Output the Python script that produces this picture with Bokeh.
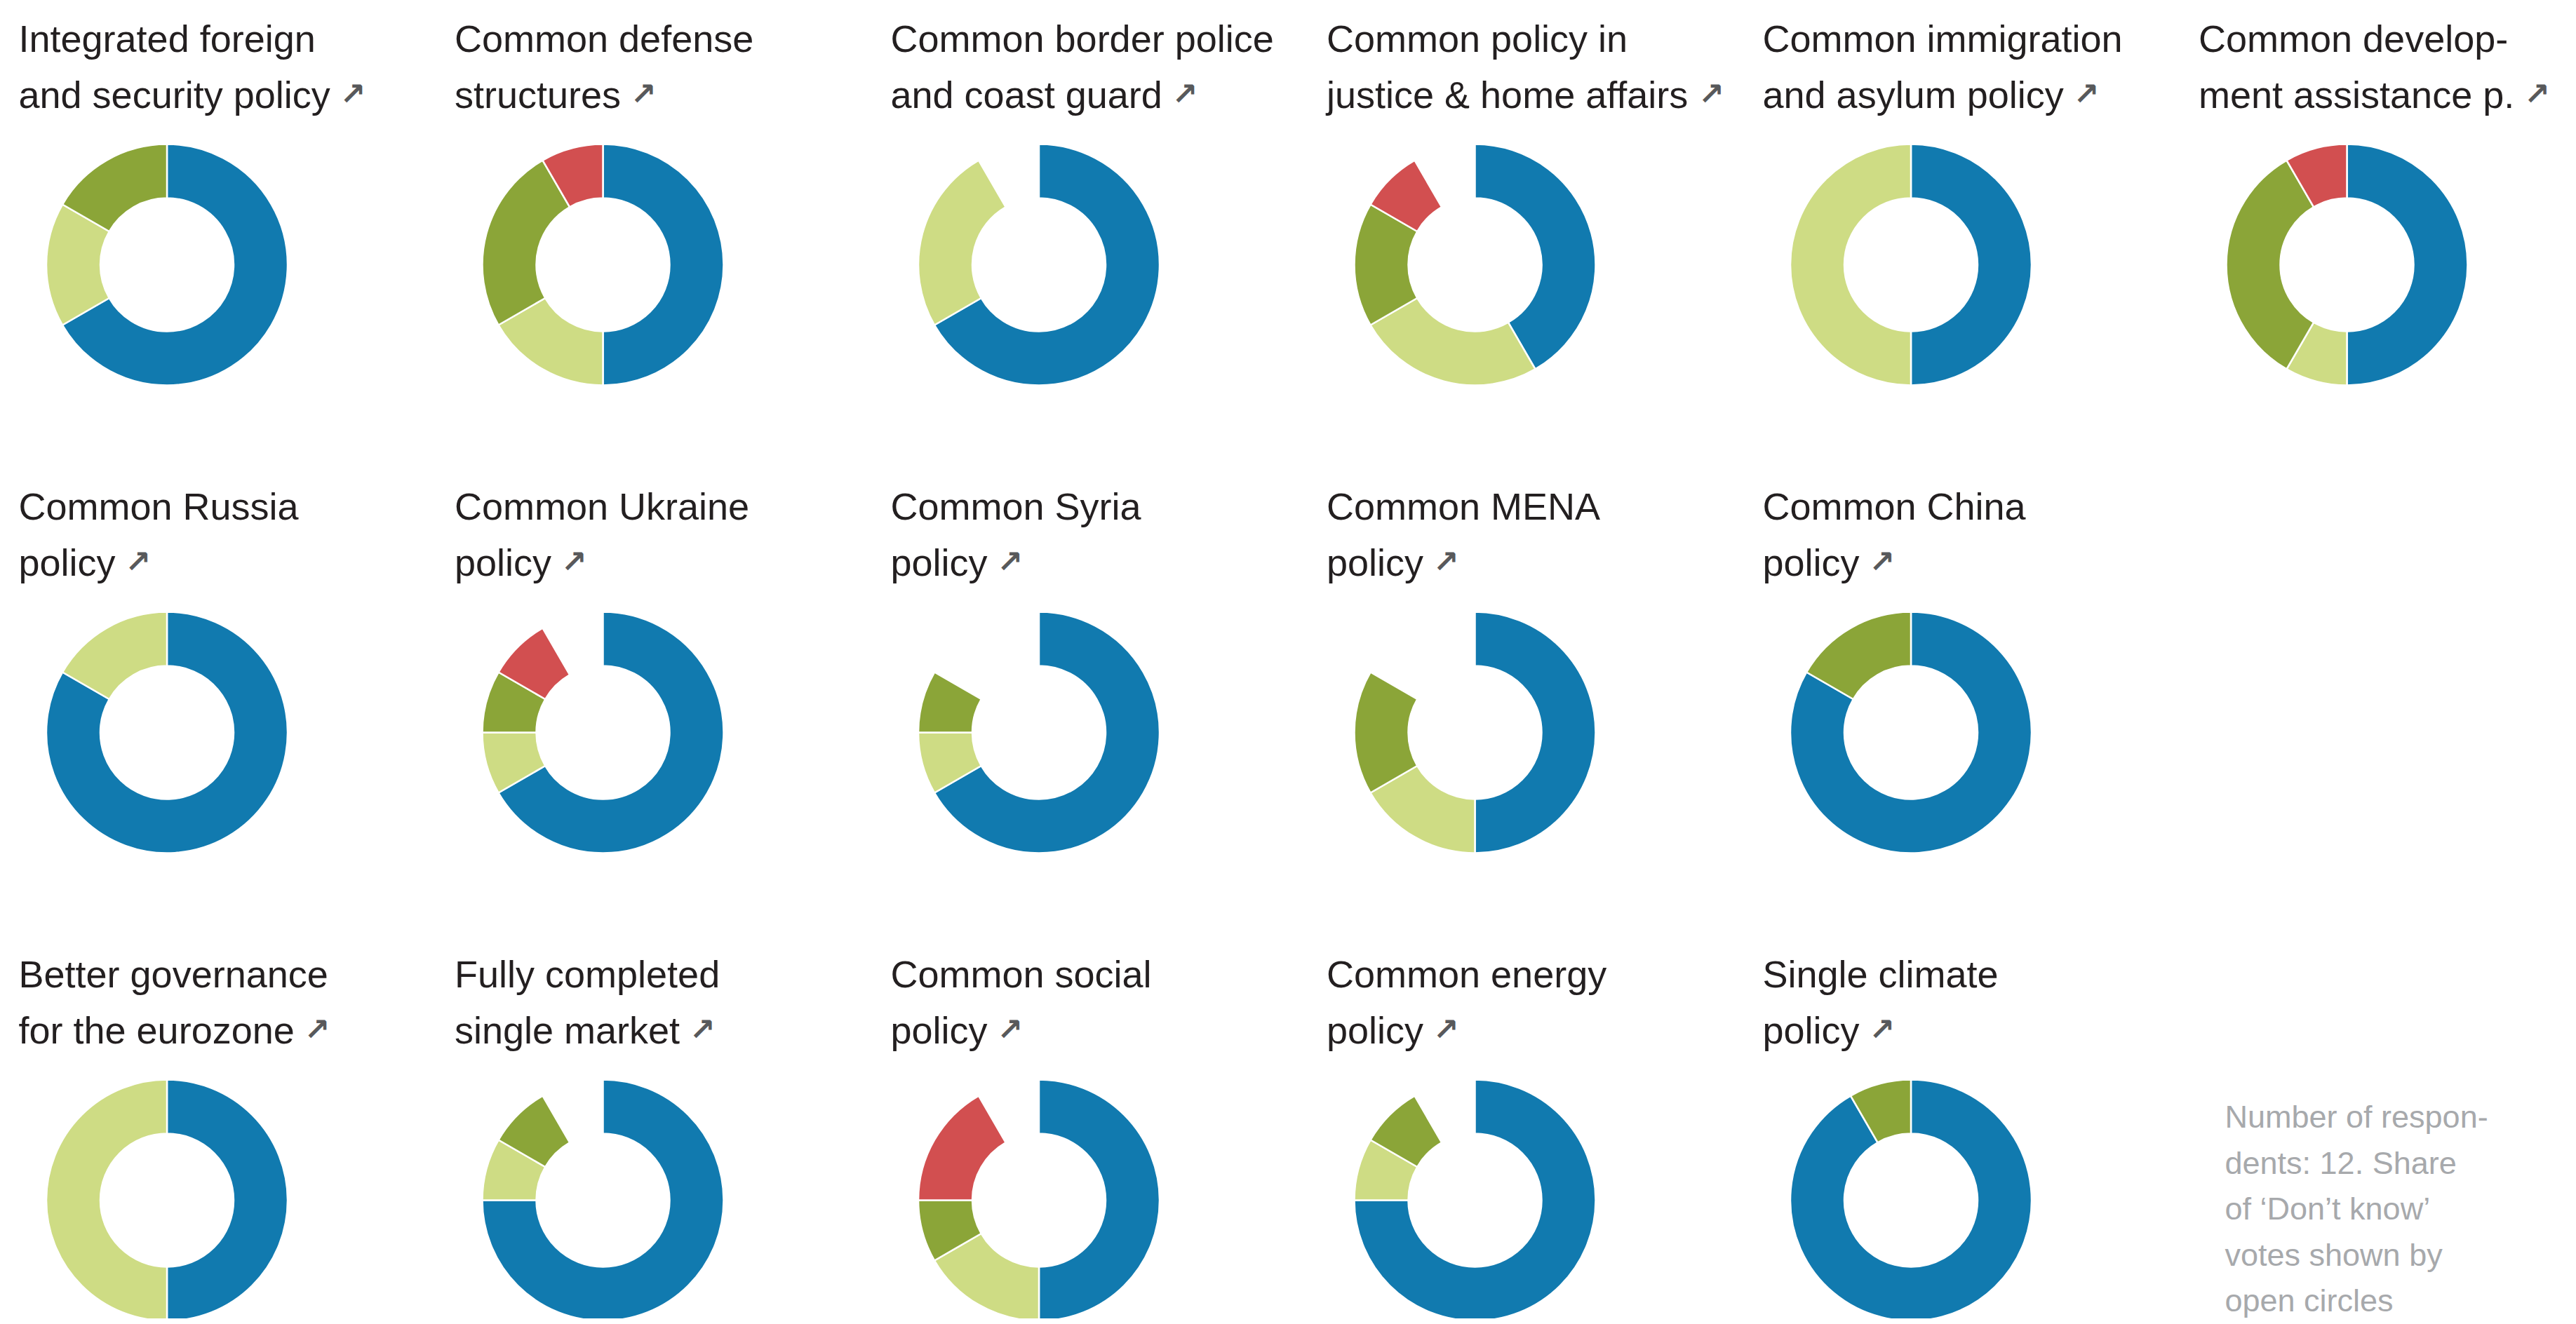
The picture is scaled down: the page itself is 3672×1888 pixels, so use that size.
import math
from bokeh.plotting import figure
from bokeh.models import Range1d, ColumnDataSource
from bokeh.core.properties import value
from bokeh.embed import file_html
from bokeh.resources import INLINE

# ---------------- data ----------------
title_line1 = [
    "Integrated foreign", "Common defense", "Common border police", "Common policy in",
    "Common immigration", "Common develop-",
    "Common Russia", "Common Ukraine", "Common Syria", "Common MENA", "Common China",
    "Better governance", "Fully completed", "Common social", "Common energy", "Single climate",
]
title_line2 = [
    "and security policy", "structures", "and coast guard", "justice & home affairs",
    "and asylum policy", "ment assistance p.",
    "policy", "policy", "policy", "policy", "policy",
    "for the eurozone", "single market", "policy", "policy", "policy",
]
# number of respondents (out of 12) per answer, slices drawn clockwise from 12 o'clock
yes =        [8, 6, 8, 5, 6, 6, 10, 8, 8, 6, 10, 6, 9, 6, 9, 11]
rather_yes = [2, 2, 3, 3, 6, 1, 2, 1, 1, 2, 0, 6, 1, 2, 1, 0]
rather_no =  [2, 3, 0, 2, 0, 4, 0, 1, 1, 2, 2, 0, 1, 1, 1, 1]
no =         [0, 1, 0, 1, 0, 1, 0, 1, 0, 0, 0, 0, 0, 2, 0, 0]
dont_know =  [0, 0, 1, 1, 0, 0, 0, 1, 2, 2, 0, 0, 1, 1, 1, 0]
respondents = 12
items_per_row = [6, 5, 5]
note_lines = ["Number of respon-", "dents: %d. Share" % respondents, "of  \u2018Don\u2019t know\u2019",
              "votes shown by", "open circles"]

# ---------------- style / layout ----------------
colors = ["#117AAF", "#CEDC84", "#8BA538", "#D24F50"]
TITLE_FONT = "Liberation Sans"
TITLE_SIZE = 54
NOTE_SIZE = 45
W, H = 3664, 1880
X0, DX = 34, 621.5
CX0 = 245.5
ROW_DY = 667
R_OUT, R_IN = 172, 95

ARIAL = {'a': 556, 'b': 556, 'c': 500, 'd': 556, 'e': 556, 'f': 278, 'g': 556, 'h': 556, 'i': 222,
         'j': 222, 'k': 500, 'l': 222, 'm': 833, 'n': 556, 'o': 556, 'p': 556, 'q': 556, 'r': 333,
         's': 500, 't': 278, 'u': 556, 'v': 500, 'w': 722, 'x': 500, 'y': 500, 'z': 500, ' ': 278,
         '.': 278, '&': 667, '-': 333}


def text_width(s, size):
    return sum(ARIAL.get(ch, 556) for ch in s) * size / 1000.0


def Y(ref_y):  # convert from top-down pixel position to data y
    return 1888 - ref_y


p = figure(width=W, height=H, x_range=Range1d(8, 8 + W), y_range=Range1d(0, H),
           output_backend="svg", toolbar_location=None, min_border=0,
           x_axis_location=None, y_axis_location=None)
p.grid.visible = False
p.outline_line_color = None
p.background_fill_color = "white"
p.border_fill_color = "white"

# positions of each panel
pos = []
for r, n in enumerate(items_per_row):
    for c in range(n):
        pos.append((r, c))

wx, wy, ws, we, wc = [], [], [], [], []
t1x, t1y, t2x, t2y, ax, ay = [], [], [], [], [], []
for i, (r, c) in enumerate(pos):
    cx = CX0 + DX * c
    cy = Y(385 + ROW_DY * r)
    counts = [yes[i], rather_yes[i], rather_no[i], no[i]]
    cum = 0
    for k, n in enumerate(counts):
        if n == 0:
            continue
        a0 = cum / respondents * 360.0
        a1 = (cum + n) / respondents * 360.0
        wx.append(cx)
        wy.append(cy)
        ws.append(math.radians(90 - a1))
        we.append(math.radians(90 - a0))
        wc.append(colors[k])
        cum += n
    tx = X0 + DX * c
    t1x.append(tx)
    t1y.append(Y(62 + ROW_DY * r))
    t2x.append(tx)
    t2y.append(Y(142 + ROW_DY * r))
    ax.append(tx + text_width(title_line2[i], TITLE_SIZE) + 14)
    ay.append(Y(141 + ROW_DY * r))

wsrc = ColumnDataSource(dict(x=wx, y=wy, start=ws, end=we, color=wc))
p.annular_wedge(x="x", y="y", inner_radius=R_IN, outer_radius=R_OUT,
                start_angle="start", end_angle="end", direction="anticlock",
                fill_color="color", line_color="white", line_width=2.5, source=wsrc)

p.text(x=t1x, y=t1y, text=title_line1, text_font=value(TITLE_FONT),
       text_font_size="%dpx" % TITLE_SIZE, text_color="#231F20",
       text_baseline="alphabetic", text_align="left")
p.text(x=t2x, y=t2y, text=title_line2, text_font=value(TITLE_FONT),
       text_font_size="%dpx" % TITLE_SIZE, text_color="#231F20",
       text_baseline="alphabetic", text_align="left")
p.text(x=ax, y=ay, text=["\u2197"] * len(ax), text_font=value("DejaVu Sans"),
       text_font_size="44px", text_font_style="bold", text_color="#58595B",
       text_baseline="alphabetic", text_align="left")

nx = [3179] * len(note_lines)
ny = [Y(1600 + 65.5 * k) for k in range(len(note_lines))]
p.text(x=nx, y=ny, text=note_lines, text_font=value(TITLE_FONT),
       text_font_size="%dpx" % NOTE_SIZE, text_color="#A7A9AC",
       text_baseline="alphabetic", text_align="left")

open("out.html", "w").write(file_html(p, INLINE))
